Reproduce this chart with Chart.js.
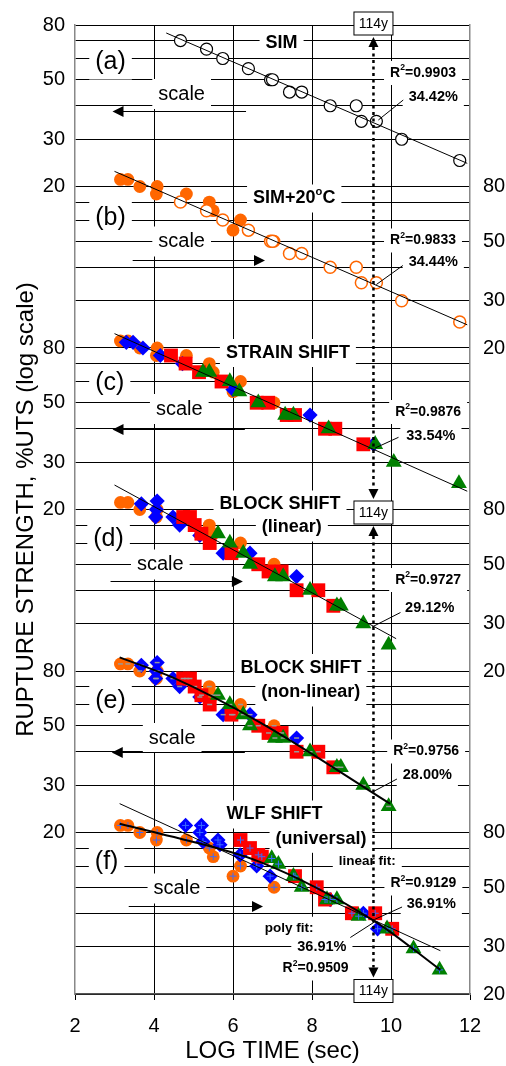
<!DOCTYPE html>
<html>
<head>
<meta charset="utf-8">
<script src="https://cdn.jsdelivr.net/npm/chart.js@4.4.1/dist/chart.umd.min.js"></script>
<style>
  html, body { margin: 0; padding: 0; background: #fff; }
  canvas { display: block; }
</style>
</head>
<body>
<canvas id="ruptureChart" width="506" height="1066"></canvas>
<script>
// ---- data (log time in s, strength in %UTS) ----
const simTime = [4.67, 5.33, 5.74, 6.39, 6.95, 7.00, 7.43, 7.74, 8.46, 9.12, 9.25, 9.63, 10.27, 11.74];
const simStrength = [70, 65, 60, 55, 50, 50, 45, 45, 40, 40, 35, 35, 30, 25];
const sim20Time = [3.15, 3.34, 3.64, 4.08, 4.06, 4.82, 5.40, 5.50, 6.19, 6.00, 7.04];
const sim20Strength = [85, 85, 80, 80, 75, 75, 70, 65, 60, 55, 50];

// strain shift (c)
const strainBlue = [[3.30, 84], [3.47, 84], [3.72, 80], [4.16, 75], [4.72, 70], [6.00, 56], [7.95, 45], [9.56, 35]];
const strainRed = [[4.43, 75], [4.80, 70], [5.14, 65], [5.71, 60], [6.60, 50], [6.89, 50], [7.36, 45], [7.57, 45], [8.33, 40], [8.59, 40], [9.30, 35]];
const strainGreen = [[5.24, 65], [5.40, 65], [5.92, 60], [6.16, 55], [6.64, 50], [7.32, 45], [7.53, 45], [8.42, 40], [9.60, 35], [10.07, 30], [11.72, 25]];

// block shift (d) linear and (e) non-linear use the same shifted points
const blockBlue = [[3.68, 84], [4.08, 86], [4.06, 80], [4.04, 75], [4.48, 75], [4.65, 70], [5.16, 64], [5.75, 55], [6.43, 55], [7.61, 45]];
const blockRed = [[4.74, 75], [4.91, 75], [5.03, 70], [5.20, 65], [5.41, 60], [5.96, 55], [6.64, 50], [6.90, 47], [7.23, 47], [7.61, 40], [8.16, 40], [8.54, 35]];
const blockGreen = [[5.62, 65], [5.92, 60], [6.26, 55], [6.43, 50], [7.06, 45], [7.27, 45], [7.95, 40], [8.63, 35], [8.73, 35], [9.30, 30], [9.94, 25]];

// WLF shift (f)
const wlfBlue = [[4.80, 85], [5.20, 85], [5.16, 80], [5.24, 74], [5.62, 75], [5.67, 72], [6.18, 66], [6.60, 60], [6.94, 55], [8.46, 45], [9.30, 40], [9.66, 35]];
const wlfRed = [[6.19, 75], [6.43, 70], [6.64, 66], [6.73, 65], [7.57, 55], [8.12, 50], [8.33, 45], [9.01, 40], [9.60, 40], [10.03, 35]];
const wlfGreen = [[6.98, 64], [7.15, 61], [7.53, 55], [7.74, 50], [8.38, 45], [8.63, 45], [9.18, 39], [9.90, 35], [10.57, 29.5], [11.23, 24.6]];

// fitted lines
const fitA = [[4.31, 74.7], [11.93, 24.4]];
const fitB = [[3.00, 91.1], [11.93, 24.4]];
const fitC = [[3.00, 90.5], [11.93, 23.4]];
const fitD = [[3.00, 98.7], [10.13, 26.4]];
const fitE = [[3.13, 89.9], [4.47, 75.7], [6.68, 51.5], [9.98, 25.6]];
const fitFLinear = [[3.13, 102.5], [11.25, 29.0]];
const fitFPoly = [[3.13, 86.3], [3.99, 80.3], [6.68, 62.2], [9.58, 37.4], [11.25, 24.6]];

const xTicks = [2, 4, 6, 8, 10, 12];
const LOG_114Y = Math.log10(114 * 365.25 * 86400);

// each panel sits one factor of 4 below the previous one on a single log axis
const PANEL_RATIO = 4;
const lift = (v, k) => v / Math.pow(PANEL_RATIO, k);
const pairs = (arr, k) => arr.map(p => ({ x: p[0], y: lift(p[1], k) }));
const zip = (xs, ys, k) => xs.map((x, i) => ({ x: x, y: lift(ys[i], k) }));

// y grid levels and which side labels them
const gridLevels = [80, 70, 60, 50, 40, 30];
const labelLevels = [80, 50, 30];
let yTickList = [];
for (let k = 0; k < 6; k++) {
    gridLevels.forEach(v => {
        const own = labelLevels.includes(v) ? String(v) : "";
        const prev = (v === 80 && k > 0) ? "20" : "";
        yTickList.push({
            value: lift(v, k),
            left: k % 2 === 0 ? own : prev,
            right: k % 2 === 1 ? own : prev
        });
    });
}
yTickList.push({ value: lift(20, 5), left: "", right: "20" });
yTickList.sort((a, b) => a.value - b.value);

const ORANGE = "#FF6600", BLUE = "#0000FF", RED = "#FF0000", GREEN = "#008000";
const FONT = '"Liberation Sans", Arial, sans-serif';

const openBlack = { pointStyle: "circle", pointRadius: 6, pointBackgroundColor: "#fff", pointBorderColor: "#000", pointBorderWidth: 1.2 };
const openOrange = { pointStyle: "circle", pointRadius: 6, pointBackgroundColor: "#fff", pointBorderColor: ORANGE, pointBorderWidth: 1.5 };
const dotOrange = { pointStyle: "circle", pointRadius: 6.4, pointBackgroundColor: ORANGE, pointBorderColor: ORANGE, pointBorderWidth: 0 };
const diamondBlue = { pointStyle: "rectRot", pointRadius: 7.6, pointBackgroundColor: BLUE, pointBorderColor: BLUE, pointBorderWidth: 0 };
const squareRed = { pointStyle: "rect", pointRadius: 9.8, pointBackgroundColor: RED, pointBorderColor: RED, pointBorderWidth: 0 };
const triGreen = { pointStyle: "triangle", pointRadius: 9.2, pointBackgroundColor: GREEN, pointBorderColor: GREEN, pointBorderWidth: 0 };
const dashGrey = { pointStyle: "line", pointRadius: 2.5, pointBackgroundColor: "#999", pointBorderColor: "#999", pointBorderWidth: 1.5 };
const crossBlue = { pointStyle: "cross", pointRadius: 3.5, pointBackgroundColor: "#3a6cff", pointBorderColor: "#3a6cff", pointBorderWidth: 1 };

const datasets = [];
function addMarks(data, style, order) {
    datasets.push(Object.assign({ data: data, showLine: false, order: order }, style));
}
function addFit(data, width, curved) {
    datasets.push({
        data: data, showLine: true, pointRadius: 0, borderColor: "#000", borderWidth: width,
        cubicInterpolationMode: curved ? "monotone" : "default", fill: false, order: 0
    });
}

// (a) SIM
addMarks(zip(simTime, simStrength, 0), openBlack, 2);
addFit(pairs(fitA, 0), 1, false);
// (b) SIM+20C
addMarks(zip(sim20Time, sim20Strength, 1), dotOrange, 6);
addMarks(zip(simTime, simStrength, 1), openOrange, 5);
addFit(pairs(fitB, 1), 1, false);
// (c) strain shift
addMarks(zip(sim20Time, sim20Strength, 2), dotOrange, 6);
addMarks(pairs(strainBlue, 2), diamondBlue, 5);
addMarks(pairs(strainRed, 2), squareRed, 4);
addMarks(pairs(strainGreen, 2), triGreen, 3);
addFit(pairs(fitC, 2), 1, false);
// (d) block shift, linear
addMarks(zip(sim20Time, sim20Strength, 3), dotOrange, 6);
addMarks(pairs(blockBlue, 3), diamondBlue, 5);
addMarks(pairs(blockRed, 3), squareRed, 4);
addMarks(pairs(blockGreen, 3), triGreen, 3);
addFit(pairs(fitD, 3), 1, false);
// (e) block shift, non-linear
addMarks(zip(sim20Time, sim20Strength, 4), dotOrange, 6);
addMarks(pairs(blockBlue, 4), diamondBlue, 5);
addMarks(pairs(blockRed, 4), squareRed, 4);
addMarks(pairs(blockGreen, 4), triGreen, 3);
addMarks(zip(sim20Time, sim20Strength, 4).concat(pairs(blockBlue, 4), pairs(blockRed, 4), pairs(blockGreen, 4)), dashGrey, 1);
addFit(pairs(fitE, 4), 2, true);
// (f) WLF shift
addMarks(zip(sim20Time, sim20Strength, 5), dotOrange, 6);
addMarks(pairs(wlfBlue, 5), diamondBlue, 5);
addMarks(pairs(wlfRed, 5), squareRed, 4);
addMarks(pairs(wlfGreen, 5), triGreen, 3);
addMarks(zip(sim20Time, sim20Strength, 5).concat(pairs(wlfBlue, 5), pairs(wlfRed, 5), pairs(wlfGreen, 5)), crossBlue, 1);
addFit(pairs(fitFLinear, 5), 1, false);
addFit(pairs(fitFPoly, 5), 2, true);

// ---- annotations: x in log time, dy in px below the panel's top (80) line ----
const notes = [
    { k: 0, x: 2.90, dy: 37, t: "(a)", size: 25 },
    { k: 0, x: 4.70, dy: 69, t: "scale", size: 20 },
    { k: 0, x: 7.23, dy: 18, t: "SIM", size: 18, bold: true },
    { k: 0, x: 10.81, dy: 48, t: "R^2^=0.9903", size: 14, bold: true },
    { k: 0, x: 11.07, dy: 72, t: "34.42%", size: 14.5, bold: true },
    { k: 1, x: 2.90, dy: 32, t: "(b)", size: 25 },
    { k: 1, x: 4.70, dy: 55, t: "scale", size: 20 },
    { k: 1, x: 7.55, dy: 12, t: "SIM+20^o^C", size: 18, bold: true },
    { k: 1, x: 10.81, dy: 54, t: "R^2^=0.9833", size: 14, bold: true },
    { k: 1, x: 11.07, dy: 75, t: "34.44%", size: 14.5, bold: true },
    { k: 2, x: 2.88, dy: 35, t: "(c)", size: 25 },
    { k: 2, x: 4.64, dy: 61, t: "scale", size: 20 },
    { k: 2, x: 7.39, dy: 5, t: "STRAIN SHIFT", size: 18, bold: true },
    { k: 2, x: 10.94, dy: 64, t: "R^2^=0.9876", size: 14, bold: true },
    { k: 2, x: 11.01, dy: 88, t: "33.54%", size: 14.5, bold: true },
    { k: 3, x: 2.85, dy: 30, t: "(d)", size: 25 },
    { k: 3, x: 4.16, dy: 55, t: "scale", size: 20 },
    { k: 3, x: 7.19, dy: -5, t: "BLOCK SHIFT", size: 18, bold: true },
    { k: 3, x: 7.49, dy: 18, t: "(linear)", size: 18, bold: true },
    { k: 3, x: 10.94, dy: 70.5, t: "R^2^=0.9727", size: 14, bold: true },
    { k: 3, x: 10.98, dy: 98, t: "29.12%", size: 14.5, bold: true },
    { k: 4, x: 2.90, dy: 30, t: "(e)", size: 25 },
    { k: 4, x: 4.46, dy: 67, t: "scale", size: 20 },
    { k: 4, x: 7.72, dy: -3, t: "BLOCK SHIFT", size: 18, bold: true },
    { k: 4, x: 7.97, dy: 21.5, t: "(non-linear)", size: 18, bold: true },
    { k: 4, x: 10.89, dy: 80.5, t: "R^2^=0.9756", size: 14, bold: true },
    { k: 4, x: 10.92, dy: 103.7, t: "28.00%", size: 14.5, bold: true },
    { k: 5, x: 2.80, dy: 29.5, t: "(f)", size: 25 },
    { k: 5, x: 4.58, dy: 56, t: "scale", size: 20 },
    { k: 5, x: 7.05, dy: -18, t: "WLF SHIFT", size: 18, bold: true },
    { k: 5, x: 8.23, dy: 6.3, t: "(universal)", size: 18, bold: true },
    { k: 5, x: 9.40, dy: 28.5, t: "linear fit:", size: 13.5, bold: true },
    { k: 5, x: 10.82, dy: 51, t: "R^2^=0.9129", size: 14, bold: true },
    { k: 5, x: 11.02, dy: 71, t: "36.91%", size: 14.5, bold: true },
    { k: 5, x: 7.42, dy: 96, t: "poly fit:", size: 13.5, bold: true },
    { k: 5, x: 8.25, dy: 114.5, t: "36.91%", size: 14.5, bold: true },
    { k: 5, x: 8.09, dy: 136, t: "R^2^=0.9509", size: 14, bold: true }
];
const scaleArrows = [
    { k: 0, dy: 86, from: 6.33, to: 2.95 },
    { k: 1, dy: 73, from: 3.46, to: 6.81 },
    { k: 2, dy: 80.6, from: 6.30, to: 2.95 },
    { k: 3, dy: 71.5, from: 2.90, to: 6.25 },
    { k: 4, dy: 81.4, from: 6.30, to: 2.93 },
    { k: 5, dy: 73.5, from: 3.36, to: 6.76 }
];
const leaders = [
    { k: 0, x1: 10.31, dy1: 75, x2: 9.68, dy2: 95 },
    { k: 1, x1: 10.30, dy1: 79, x2: 9.63, dy2: 98 },
    { k: 2, x1: 10.19, dy1: 89.3, x2: 9.60, dy2: 100 },
    { k: 3, x1: 10.24, dy1: 103, x2: 9.52, dy2: 117.5 },
    { k: 4, x1: 10.15, dy1: 108, x2: 9.56, dy2: 120.4 },
    { k: 5, x1: 10.28, dy1: 74.5, x2: 9.58, dy2: 87 },
    { k: 5, x1: 8.97, dy1: 105, x2: 9.58, dy2: 89.5 }
];

function drawNote(ctx, cx, cy, n) {
    const weight = n.bold ? "bold " : "";
    const parts = n.t.split("^").map((s, i) => ({ s: s, sup: i % 2 === 1 }));
    let w = 0;
    parts.forEach(p => {
        ctx.font = weight + (p.sup ? n.size * 0.62 : n.size) + "px " + FONT;
        p.w = ctx.measureText(p.s).width;
        w += p.w;
    });
    const padX = 6, padY = 5;
    ctx.fillStyle = "#fff";
    ctx.fillRect(cx - w / 2 - padX, cy - n.size / 2 - padY, w + 2 * padX, n.size + 2 * padY);
    ctx.fillStyle = "#000";
    ctx.textAlign = "left";
    ctx.textBaseline = "middle";
    let x = cx - w / 2;
    parts.forEach(p => {
        ctx.font = weight + (p.sup ? n.size * 0.62 : n.size) + "px " + FONT;
        ctx.fillText(p.s, x, p.sup ? cy - n.size * 0.36 : cy);
        x += p.w;
    });
}

function arrowHead(ctx, x, y, dir, len, half, vertical) {
    ctx.beginPath();
    if (vertical) {
        ctx.moveTo(x, y);
        ctx.lineTo(x - half, y - dir * len);
        ctx.lineTo(x + half, y - dir * len);
    } else {
        ctx.moveTo(x, y);
        ctx.lineTo(x - dir * len, y - half);
        ctx.lineTo(x - dir * len, y + half);
    }
    ctx.closePath();
    ctx.fill();
}

function yearBox(ctx, cx, cy) {
    ctx.font = "14px " + FONT;
    ctx.fillStyle = "#fff";
    ctx.fillRect(cx - 19.5, cy - 11.5, 39, 23);
    ctx.strokeStyle = "#000";
    ctx.lineWidth = 1;
    ctx.strokeRect(cx - 19.5, cy - 11.5, 39, 23);
    ctx.fillStyle = "#000";
    ctx.textAlign = "center";
    ctx.textBaseline = "middle";
    ctx.fillText("114y", cx, cy + 0.5);
}

const annotate = {
    id: "annotate",
    beforeDatasetsDraw(chart) {
        const ctx = chart.ctx, xs = chart.scales.x, ys = chart.scales.y;
        const top = k => ys.getPixelForValue(lift(80, k));
        ctx.save();
        notes.forEach(n => drawNote(ctx, xs.getPixelForValue(n.x), top(n.k) + n.dy, n));
        // scale arrows
        ctx.strokeStyle = "#000";
        ctx.fillStyle = "#000";
        ctx.lineWidth = 1;
        scaleArrows.forEach(a => {
            const y = Math.round(top(a.k) + a.dy) + 0.5;
            const x1 = xs.getPixelForValue(a.from), x2 = xs.getPixelForValue(a.to);
            const dir = x2 > x1 ? 1 : -1;
            ctx.beginPath();
            ctx.moveTo(x1, y);
            ctx.lineTo(x2 - dir * 8, y);
            ctx.stroke();
            arrowHead(ctx, x2, y, dir, 11, 5.5, false);
        });
        ctx.restore();
    },
    afterDatasetsDraw(chart) {
        const ctx = chart.ctx, xs = chart.scales.x, ys = chart.scales.y;
        const top = k => ys.getPixelForValue(lift(80, k));
        ctx.save();
        ctx.strokeStyle = "#000";
        ctx.lineWidth = 1;
        leaders.forEach(l => {
            ctx.beginPath();
            ctx.moveTo(xs.getPixelForValue(l.x1), top(l.k) + l.dy1);
            ctx.lineTo(xs.getPixelForValue(l.x2), top(l.k) + l.dy2);
            ctx.stroke();
        });
        // 114 year marker
        const xl = xs.getPixelForValue(LOG_114Y);
        const yT = top(0) - 1.5, yM = top(3) + 3, yB = ys.bottom - 3;
        const runs = [
            [yT + 13.5, yM - 13.5],
            [yM + 13.5, yB - 13.5]
        ];
        ctx.fillStyle = "#000";
        runs.forEach(r => {
            arrowHead(ctx, xl, r[0], -1, 10, 5, true);
            arrowHead(ctx, xl, r[1], 1, 10, 5, true);
            ctx.beginPath();
            ctx.setLineDash([3, 3.5]);
            ctx.lineWidth = 2.5;
            ctx.moveTo(xl, r[0] + 10);
            ctx.lineTo(xl, r[1] - 10);
            ctx.stroke();
            ctx.setLineDash([]);
        });
        yearBox(ctx, xl, yT);
        yearBox(ctx, xl, yM);
        yearBox(ctx, xl, yB);
        ctx.restore();
    }
};

new Chart(document.getElementById("ruptureChart"), {
    type: "scatter",
    data: { datasets: datasets },
    options: {
        responsive: false,
        animation: false,
        devicePixelRatio: 1,
        events: [],
        layout: { padding: { top: 23, left: 0, right: 0, bottom: 0 } },
        plugins: { legend: { display: false }, tooltip: { enabled: false } },
        scales: {
            x: {
                type: "linear",
                min: 2, max: 12,
                afterBuildTicks: scale => { scale.ticks = xTicks.map(v => ({ value: v })); },
                afterFit: scale => { scale.height = 72; },
                ticks: { font: { size: 20, family: FONT }, color: "#000", padding: 14 },
                grid: {
                    color: c => (c.tick && (c.tick.value === 2 || c.tick.value === 12)) ? "rgba(0,0,0,0)" : "#000",
                    tickColor: "#000",
                    tickLength: 6,
                    lineWidth: 1
                },
                border: { color: "#555", width: 1.5 },
                title: { display: true, text: "LOG TIME (sec)", font: { size: 24, family: FONT }, color: "#000", padding: { top: 0, bottom: 0 } }
            },
            y: {
                type: "logarithmic",
                position: "left",
                min: lift(20, 5), max: 80,
                afterBuildTicks: scale => { scale.ticks = yTickList.map(t => ({ value: t.value })); },
                afterFit: scale => { scale.width = 75; },
                ticks: {
                    autoSkip: false,
                    font: { size: 20, family: FONT }, color: "#000", padding: 10,
                    callback: (val, i) => yTickList[i] ? yTickList[i].left : ""
                },
                grid: { color: "#000", lineWidth: 1, drawTicks: false },
                border: { color: "#888", width: 1.5 },
                title: { display: true, text: "RUPTURE STRENGTH, %UTS (log scale)", font: { size: 24, family: FONT }, color: "#000", padding: { top: 12, bottom: 0 } }
            },
            y2: {
                type: "logarithmic",
                position: "right",
                min: lift(20, 5), max: 80,
                afterBuildTicks: scale => { scale.ticks = yTickList.map(t => ({ value: t.value })); },
                afterFit: scale => { scale.width = 36; },
                ticks: {
                    autoSkip: false,
                    font: { size: 20, family: FONT }, color: "#000", padding: 13,
                    callback: (val, i) => yTickList[i] ? yTickList[i].right : ""
                },
                grid: { drawOnChartArea: false, drawTicks: false },
                border: { color: "#888", width: 1.5 }
            }
        }
    },
    plugins: [annotate]
});
</script>
</body>
</html>
